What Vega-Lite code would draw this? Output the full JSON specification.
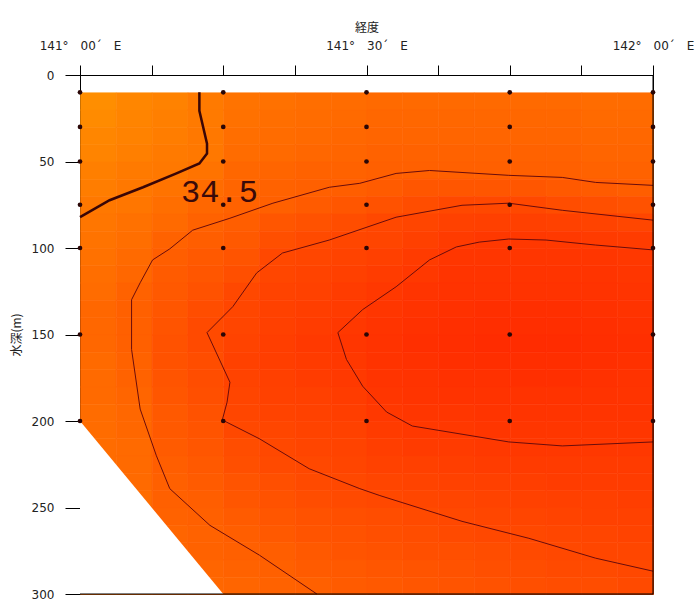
{
"$schema": "https://vega.github.io/schema/vega-lite/v6.json",
"width": 573, "height": 519,
"autosize": "none",
"padding": {"left": 80, "top": 75, "right": 42, "bottom": 7},
"background": "white",
"config": {
  "view": {"stroke": "black", "strokeWidth": 1},
  "axis": {"labelFont": "DejaVu Sans", "titleFont": "Noto Sans CJK JP", "labelColor": "#222222", "titleColor": "#222222", "domainColor": "black", "tickColor": "black", "grid": false, "zindex": 1, "labelFontSize": 12, "titleFontSize": 12, "titleFontWeight": "normal"}
},
"datasets": {
"sal": [
{"lon":1.875,"dep":15,"sal":34.41},{"lon":1.875,"dep":25,"sal":34.42},{"lon":1.875,"dep":35,"sal":34.44},{"lon":1.875,"dep":45,"sal":34.45},{"lon":1.875,"dep":55,"sal":34.47},{"lon":1.875,"dep":65,"sal":34.48},{"lon":1.875,"dep":75,"sal":34.50},{"lon":1.875,"dep":85,"sal":34.51},{"lon":1.875,"dep":95,"sal":34.52},{"lon":1.875,"dep":105,"sal":34.53},{"lon":1.875,"dep":115,"sal":34.54},{"lon":1.875,"dep":125,"sal":34.55},{"lon":1.875,"dep":135,"sal":34.57},{"lon":1.875,"dep":145,"sal":34.57},{"lon":1.875,"dep":155,"sal":34.57},{"lon":1.875,"dep":165,"sal":34.56},{"lon":1.875,"dep":175,"sal":34.56},{"lon":1.875,"dep":185,"sal":34.56},{"lon":1.875,"dep":195,"sal":34.55},{"lon":1.875,"dep":205,"sal":34.55},{"lon":1.875,"dep":215,"sal":34.55},{"lon":1.875,"dep":225,"sal":34.55},{"lon":1.875,"dep":235,"sal":34.54},{"lon":1.875,"dep":245,"sal":34.54},{"lon":1.875,"dep":255,"sal":34.54},{"lon":1.875,"dep":265,"sal":34.54},{"lon":1.875,"dep":275,"sal":34.53},{"lon":1.875,"dep":285,"sal":34.53},{"lon":1.875,"dep":295,"sal":34.53},
{"lon":5.625,"dep":15,"sal":34.44},{"lon":5.625,"dep":25,"sal":34.45},{"lon":5.625,"dep":35,"sal":34.46},{"lon":5.625,"dep":45,"sal":34.47},{"lon":5.625,"dep":55,"sal":34.49},{"lon":5.625,"dep":65,"sal":34.50},{"lon":5.625,"dep":75,"sal":34.51},{"lon":5.625,"dep":85,"sal":34.53},{"lon":5.625,"dep":95,"sal":34.54},{"lon":5.625,"dep":105,"sal":34.56},{"lon":5.625,"dep":115,"sal":34.57},{"lon":5.625,"dep":125,"sal":34.59},{"lon":5.625,"dep":135,"sal":34.60},{"lon":5.625,"dep":145,"sal":34.60},{"lon":5.625,"dep":155,"sal":34.60},{"lon":5.625,"dep":165,"sal":34.59},{"lon":5.625,"dep":175,"sal":34.59},{"lon":5.625,"dep":185,"sal":34.58},{"lon":5.625,"dep":195,"sal":34.57},{"lon":5.625,"dep":205,"sal":34.57},{"lon":5.625,"dep":215,"sal":34.56},{"lon":5.625,"dep":225,"sal":34.56},{"lon":5.625,"dep":235,"sal":34.56},{"lon":5.625,"dep":245,"sal":34.55},{"lon":5.625,"dep":255,"sal":34.55},{"lon":5.625,"dep":265,"sal":34.55},{"lon":5.625,"dep":275,"sal":34.55},{"lon":5.625,"dep":285,"sal":34.54},{"lon":5.625,"dep":295,"sal":34.54},
{"lon":9.375,"dep":15,"sal":34.46},{"lon":9.375,"dep":25,"sal":34.47},{"lon":9.375,"dep":35,"sal":34.48},{"lon":9.375,"dep":45,"sal":34.49},{"lon":9.375,"dep":55,"sal":34.50},{"lon":9.375,"dep":65,"sal":34.52},{"lon":9.375,"dep":75,"sal":34.54},{"lon":9.375,"dep":85,"sal":34.56},{"lon":9.375,"dep":95,"sal":34.59},{"lon":9.375,"dep":105,"sal":34.61},{"lon":9.375,"dep":115,"sal":34.62},{"lon":9.375,"dep":125,"sal":34.63},{"lon":9.375,"dep":135,"sal":34.64},{"lon":9.375,"dep":145,"sal":34.65},{"lon":9.375,"dep":155,"sal":34.66},{"lon":9.375,"dep":165,"sal":34.66},{"lon":9.375,"dep":175,"sal":34.65},{"lon":9.375,"dep":185,"sal":34.64},{"lon":9.375,"dep":195,"sal":34.63},{"lon":9.375,"dep":205,"sal":34.63},{"lon":9.375,"dep":215,"sal":34.62},{"lon":9.375,"dep":225,"sal":34.61},{"lon":9.375,"dep":235,"sal":34.60},{"lon":9.375,"dep":245,"sal":34.60},{"lon":9.375,"dep":255,"sal":34.59},{"lon":9.375,"dep":265,"sal":34.58},{"lon":9.375,"dep":275,"sal":34.58},{"lon":9.375,"dep":285,"sal":34.57},{"lon":9.375,"dep":295,"sal":34.56},
{"lon":13.125,"dep":15,"sal":34.49},{"lon":13.125,"dep":25,"sal":34.49},{"lon":13.125,"dep":35,"sal":34.50},{"lon":13.125,"dep":45,"sal":34.50},{"lon":13.125,"dep":55,"sal":34.52},{"lon":13.125,"dep":65,"sal":34.55},{"lon":13.125,"dep":75,"sal":34.57},{"lon":13.125,"dep":85,"sal":34.59},{"lon":13.125,"dep":95,"sal":34.61},{"lon":13.125,"dep":105,"sal":34.63},{"lon":13.125,"dep":115,"sal":34.64},{"lon":13.125,"dep":125,"sal":34.66},{"lon":13.125,"dep":135,"sal":34.68},{"lon":13.125,"dep":145,"sal":34.69},{"lon":13.125,"dep":155,"sal":34.69},{"lon":13.125,"dep":165,"sal":34.68},{"lon":13.125,"dep":175,"sal":34.68},{"lon":13.125,"dep":185,"sal":34.67},{"lon":13.125,"dep":195,"sal":34.66},{"lon":13.125,"dep":205,"sal":34.65},{"lon":13.125,"dep":215,"sal":34.64},{"lon":13.125,"dep":225,"sal":34.63},{"lon":13.125,"dep":235,"sal":34.62},{"lon":13.125,"dep":245,"sal":34.61},{"lon":13.125,"dep":255,"sal":34.60},{"lon":13.125,"dep":265,"sal":34.59},{"lon":13.125,"dep":275,"sal":34.59},{"lon":13.125,"dep":285,"sal":34.58},{"lon":13.125,"dep":295,"sal":34.57},
{"lon":16.875,"dep":15,"sal":34.52},{"lon":16.875,"dep":25,"sal":34.53},{"lon":16.875,"dep":35,"sal":34.54},{"lon":16.875,"dep":45,"sal":34.55},{"lon":16.875,"dep":55,"sal":34.57},{"lon":16.875,"dep":65,"sal":34.58},{"lon":16.875,"dep":75,"sal":34.59},{"lon":16.875,"dep":85,"sal":34.61},{"lon":16.875,"dep":95,"sal":34.63},{"lon":16.875,"dep":105,"sal":34.65},{"lon":16.875,"dep":115,"sal":34.67},{"lon":16.875,"dep":125,"sal":34.70},{"lon":16.875,"dep":135,"sal":34.71},{"lon":16.875,"dep":145,"sal":34.72},{"lon":16.875,"dep":155,"sal":34.73},{"lon":16.875,"dep":165,"sal":34.74},{"lon":16.875,"dep":175,"sal":34.73},{"lon":16.875,"dep":185,"sal":34.72},{"lon":16.875,"dep":195,"sal":34.71},{"lon":16.875,"dep":205,"sal":34.70},{"lon":16.875,"dep":215,"sal":34.68},{"lon":16.875,"dep":225,"sal":34.67},{"lon":16.875,"dep":235,"sal":34.65},{"lon":16.875,"dep":245,"sal":34.64},{"lon":16.875,"dep":255,"sal":34.62},{"lon":16.875,"dep":265,"sal":34.61},{"lon":16.875,"dep":275,"sal":34.60},{"lon":16.875,"dep":285,"sal":34.59},{"lon":16.875,"dep":295,"sal":34.58},
{"lon":20.625,"dep":15,"sal":34.53},{"lon":20.625,"dep":25,"sal":34.54},{"lon":20.625,"dep":35,"sal":34.55},{"lon":20.625,"dep":45,"sal":34.56},{"lon":20.625,"dep":55,"sal":34.58},{"lon":20.625,"dep":65,"sal":34.59},{"lon":20.625,"dep":75,"sal":34.60},{"lon":20.625,"dep":85,"sal":34.64},{"lon":20.625,"dep":95,"sal":34.67},{"lon":20.625,"dep":105,"sal":34.70},{"lon":20.625,"dep":115,"sal":34.71},{"lon":20.625,"dep":125,"sal":34.73},{"lon":20.625,"dep":135,"sal":34.74},{"lon":20.625,"dep":145,"sal":34.75},{"lon":20.625,"dep":155,"sal":34.76},{"lon":20.625,"dep":165,"sal":34.76},{"lon":20.625,"dep":175,"sal":34.75},{"lon":20.625,"dep":185,"sal":34.74},{"lon":20.625,"dep":195,"sal":34.73},{"lon":20.625,"dep":205,"sal":34.71},{"lon":20.625,"dep":215,"sal":34.70},{"lon":20.625,"dep":225,"sal":34.69},{"lon":20.625,"dep":235,"sal":34.67},{"lon":20.625,"dep":245,"sal":34.66},{"lon":20.625,"dep":255,"sal":34.64},{"lon":20.625,"dep":265,"sal":34.63},{"lon":20.625,"dep":275,"sal":34.61},{"lon":20.625,"dep":285,"sal":34.60},{"lon":20.625,"dep":295,"sal":34.59},
{"lon":24.375,"dep":15,"sal":34.54},{"lon":24.375,"dep":25,"sal":34.55},{"lon":24.375,"dep":35,"sal":34.56},{"lon":24.375,"dep":45,"sal":34.57},{"lon":24.375,"dep":55,"sal":34.59},{"lon":24.375,"dep":65,"sal":34.60},{"lon":24.375,"dep":75,"sal":34.62},{"lon":24.375,"dep":85,"sal":34.66},{"lon":24.375,"dep":95,"sal":34.69},{"lon":24.375,"dep":105,"sal":34.71},{"lon":24.375,"dep":115,"sal":34.73},{"lon":24.375,"dep":125,"sal":34.74},{"lon":24.375,"dep":135,"sal":34.76},{"lon":24.375,"dep":145,"sal":34.77},{"lon":24.375,"dep":155,"sal":34.79},{"lon":24.375,"dep":165,"sal":34.78},{"lon":24.375,"dep":175,"sal":34.77},{"lon":24.375,"dep":185,"sal":34.75},{"lon":24.375,"dep":195,"sal":34.74},{"lon":24.375,"dep":205,"sal":34.73},{"lon":24.375,"dep":215,"sal":34.72},{"lon":24.375,"dep":225,"sal":34.70},{"lon":24.375,"dep":235,"sal":34.69},{"lon":24.375,"dep":245,"sal":34.68},{"lon":24.375,"dep":255,"sal":34.66},{"lon":24.375,"dep":265,"sal":34.65},{"lon":24.375,"dep":275,"sal":34.63},{"lon":24.375,"dep":285,"sal":34.62},{"lon":24.375,"dep":295,"sal":34.60},
{"lon":28.125,"dep":15,"sal":34.55},{"lon":28.125,"dep":25,"sal":34.56},{"lon":28.125,"dep":35,"sal":34.57},{"lon":28.125,"dep":45,"sal":34.58},{"lon":28.125,"dep":55,"sal":34.59},{"lon":28.125,"dep":65,"sal":34.61},{"lon":28.125,"dep":75,"sal":34.64},{"lon":28.125,"dep":85,"sal":34.68},{"lon":28.125,"dep":95,"sal":34.71},{"lon":28.125,"dep":105,"sal":34.73},{"lon":28.125,"dep":115,"sal":34.75},{"lon":28.125,"dep":125,"sal":34.77},{"lon":28.125,"dep":135,"sal":34.78},{"lon":28.125,"dep":145,"sal":34.80},{"lon":28.125,"dep":155,"sal":34.81},{"lon":28.125,"dep":165,"sal":34.80},{"lon":28.125,"dep":175,"sal":34.79},{"lon":28.125,"dep":185,"sal":34.77},{"lon":28.125,"dep":195,"sal":34.76},{"lon":28.125,"dep":205,"sal":34.74},{"lon":28.125,"dep":215,"sal":34.73},{"lon":28.125,"dep":225,"sal":34.72},{"lon":28.125,"dep":235,"sal":34.70},{"lon":28.125,"dep":245,"sal":34.69},{"lon":28.125,"dep":255,"sal":34.67},{"lon":28.125,"dep":265,"sal":34.66},{"lon":28.125,"dep":275,"sal":34.65},{"lon":28.125,"dep":285,"sal":34.63},{"lon":28.125,"dep":295,"sal":34.62},
{"lon":31.875,"dep":15,"sal":34.56},{"lon":31.875,"dep":25,"sal":34.57},{"lon":31.875,"dep":35,"sal":34.58},{"lon":31.875,"dep":45,"sal":34.59},{"lon":31.875,"dep":55,"sal":34.60},{"lon":31.875,"dep":65,"sal":34.62},{"lon":31.875,"dep":75,"sal":34.66},{"lon":31.875,"dep":85,"sal":34.70},{"lon":31.875,"dep":95,"sal":34.72},{"lon":31.875,"dep":105,"sal":34.75},{"lon":31.875,"dep":115,"sal":34.77},{"lon":31.875,"dep":125,"sal":34.80},{"lon":31.875,"dep":135,"sal":34.81},{"lon":31.875,"dep":145,"sal":34.82},{"lon":31.875,"dep":155,"sal":34.83},{"lon":31.875,"dep":165,"sal":34.83},{"lon":31.875,"dep":175,"sal":34.82},{"lon":31.875,"dep":185,"sal":34.81},{"lon":31.875,"dep":195,"sal":34.80},{"lon":31.875,"dep":205,"sal":34.78},{"lon":31.875,"dep":215,"sal":34.76},{"lon":31.875,"dep":225,"sal":34.74},{"lon":31.875,"dep":235,"sal":34.72},{"lon":31.875,"dep":245,"sal":34.70},{"lon":31.875,"dep":255,"sal":34.68},{"lon":31.875,"dep":265,"sal":34.67},{"lon":31.875,"dep":275,"sal":34.66},{"lon":31.875,"dep":285,"sal":34.64},{"lon":31.875,"dep":295,"sal":34.63},
{"lon":35.625,"dep":15,"sal":34.56},{"lon":35.625,"dep":25,"sal":34.57},{"lon":35.625,"dep":35,"sal":34.58},{"lon":35.625,"dep":45,"sal":34.59},{"lon":35.625,"dep":55,"sal":34.60},{"lon":35.625,"dep":65,"sal":34.64},{"lon":35.625,"dep":75,"sal":34.68},{"lon":35.625,"dep":85,"sal":34.72},{"lon":35.625,"dep":95,"sal":34.75},{"lon":35.625,"dep":105,"sal":34.78},{"lon":35.625,"dep":115,"sal":34.80},{"lon":35.625,"dep":125,"sal":34.82},{"lon":35.625,"dep":135,"sal":34.83},{"lon":35.625,"dep":145,"sal":34.84},{"lon":35.625,"dep":155,"sal":34.85},{"lon":35.625,"dep":165,"sal":34.84},{"lon":35.625,"dep":175,"sal":34.83},{"lon":35.625,"dep":185,"sal":34.82},{"lon":35.625,"dep":195,"sal":34.81},{"lon":35.625,"dep":205,"sal":34.80},{"lon":35.625,"dep":215,"sal":34.78},{"lon":35.625,"dep":225,"sal":34.75},{"lon":35.625,"dep":235,"sal":34.73},{"lon":35.625,"dep":245,"sal":34.71},{"lon":35.625,"dep":255,"sal":34.69},{"lon":35.625,"dep":265,"sal":34.68},{"lon":35.625,"dep":275,"sal":34.67},{"lon":35.625,"dep":285,"sal":34.65},{"lon":35.625,"dep":295,"sal":34.64},
{"lon":39.375,"dep":15,"sal":34.56},{"lon":39.375,"dep":25,"sal":34.57},{"lon":39.375,"dep":35,"sal":34.58},{"lon":39.375,"dep":45,"sal":34.59},{"lon":39.375,"dep":55,"sal":34.60},{"lon":39.375,"dep":65,"sal":34.64},{"lon":39.375,"dep":75,"sal":34.70},{"lon":39.375,"dep":85,"sal":34.74},{"lon":39.375,"dep":95,"sal":34.78},{"lon":39.375,"dep":105,"sal":34.81},{"lon":39.375,"dep":115,"sal":34.82},{"lon":39.375,"dep":125,"sal":34.83},{"lon":39.375,"dep":135,"sal":34.84},{"lon":39.375,"dep":145,"sal":34.85},{"lon":39.375,"dep":155,"sal":34.86},{"lon":39.375,"dep":165,"sal":34.85},{"lon":39.375,"dep":175,"sal":34.84},{"lon":39.375,"dep":185,"sal":34.83},{"lon":39.375,"dep":195,"sal":34.81},{"lon":39.375,"dep":205,"sal":34.80},{"lon":39.375,"dep":215,"sal":34.78},{"lon":39.375,"dep":225,"sal":34.76},{"lon":39.375,"dep":235,"sal":34.74},{"lon":39.375,"dep":245,"sal":34.72},{"lon":39.375,"dep":255,"sal":34.70},{"lon":39.375,"dep":265,"sal":34.69},{"lon":39.375,"dep":275,"sal":34.67},{"lon":39.375,"dep":285,"sal":34.66},{"lon":39.375,"dep":295,"sal":34.65},
{"lon":43.125,"dep":15,"sal":34.56},{"lon":43.125,"dep":25,"sal":34.57},{"lon":43.125,"dep":35,"sal":34.58},{"lon":43.125,"dep":45,"sal":34.59},{"lon":43.125,"dep":55,"sal":34.60},{"lon":43.125,"dep":65,"sal":34.64},{"lon":43.125,"dep":75,"sal":34.70},{"lon":43.125,"dep":85,"sal":34.75},{"lon":43.125,"dep":95,"sal":34.80},{"lon":43.125,"dep":105,"sal":34.81},{"lon":43.125,"dep":115,"sal":34.82},{"lon":43.125,"dep":125,"sal":34.83},{"lon":43.125,"dep":135,"sal":34.85},{"lon":43.125,"dep":145,"sal":34.86},{"lon":43.125,"dep":155,"sal":34.87},{"lon":43.125,"dep":165,"sal":34.86},{"lon":43.125,"dep":175,"sal":34.84},{"lon":43.125,"dep":185,"sal":34.83},{"lon":43.125,"dep":195,"sal":34.82},{"lon":43.125,"dep":205,"sal":34.81},{"lon":43.125,"dep":215,"sal":34.79},{"lon":43.125,"dep":225,"sal":34.77},{"lon":43.125,"dep":235,"sal":34.75},{"lon":43.125,"dep":245,"sal":34.73},{"lon":43.125,"dep":255,"sal":34.71},{"lon":43.125,"dep":265,"sal":34.70},{"lon":43.125,"dep":275,"sal":34.68},{"lon":43.125,"dep":285,"sal":34.67},{"lon":43.125,"dep":295,"sal":34.66},
{"lon":46.875,"dep":15,"sal":34.56},{"lon":46.875,"dep":25,"sal":34.57},{"lon":46.875,"dep":35,"sal":34.58},{"lon":46.875,"dep":45,"sal":34.59},{"lon":46.875,"dep":55,"sal":34.60},{"lon":46.875,"dep":65,"sal":34.64},{"lon":46.875,"dep":75,"sal":34.70},{"lon":46.875,"dep":85,"sal":34.75},{"lon":46.875,"dep":95,"sal":34.80},{"lon":46.875,"dep":105,"sal":34.81},{"lon":46.875,"dep":115,"sal":34.82},{"lon":46.875,"dep":125,"sal":34.83},{"lon":46.875,"dep":135,"sal":34.85},{"lon":46.875,"dep":145,"sal":34.86},{"lon":46.875,"dep":155,"sal":34.87},{"lon":46.875,"dep":165,"sal":34.86},{"lon":46.875,"dep":175,"sal":34.85},{"lon":46.875,"dep":185,"sal":34.83},{"lon":46.875,"dep":195,"sal":34.82},{"lon":46.875,"dep":205,"sal":34.81},{"lon":46.875,"dep":215,"sal":34.80},{"lon":46.875,"dep":225,"sal":34.78},{"lon":46.875,"dep":235,"sal":34.76},{"lon":46.875,"dep":245,"sal":34.74},{"lon":46.875,"dep":255,"sal":34.72},{"lon":46.875,"dep":265,"sal":34.70},{"lon":46.875,"dep":275,"sal":34.69},{"lon":46.875,"dep":285,"sal":34.68},{"lon":46.875,"dep":295,"sal":34.67},
{"lon":50.625,"dep":15,"sal":34.56},{"lon":50.625,"dep":25,"sal":34.57},{"lon":50.625,"dep":35,"sal":34.58},{"lon":50.625,"dep":45,"sal":34.59},{"lon":50.625,"dep":55,"sal":34.60},{"lon":50.625,"dep":65,"sal":34.63},{"lon":50.625,"dep":75,"sal":34.68},{"lon":50.625,"dep":85,"sal":34.74},{"lon":50.625,"dep":95,"sal":34.79},{"lon":50.625,"dep":105,"sal":34.81},{"lon":50.625,"dep":115,"sal":34.82},{"lon":50.625,"dep":125,"sal":34.83},{"lon":50.625,"dep":135,"sal":34.85},{"lon":50.625,"dep":145,"sal":34.86},{"lon":50.625,"dep":155,"sal":34.87},{"lon":50.625,"dep":165,"sal":34.86},{"lon":50.625,"dep":175,"sal":34.85},{"lon":50.625,"dep":185,"sal":34.83},{"lon":50.625,"dep":195,"sal":34.82},{"lon":50.625,"dep":205,"sal":34.81},{"lon":50.625,"dep":215,"sal":34.80},{"lon":50.625,"dep":225,"sal":34.78},{"lon":50.625,"dep":235,"sal":34.77},{"lon":50.625,"dep":245,"sal":34.75},{"lon":50.625,"dep":255,"sal":34.73},{"lon":50.625,"dep":265,"sal":34.71},{"lon":50.625,"dep":275,"sal":34.70},{"lon":50.625,"dep":285,"sal":34.69},{"lon":50.625,"dep":295,"sal":34.68},
{"lon":54.375,"dep":15,"sal":34.55},{"lon":54.375,"dep":25,"sal":34.56},{"lon":54.375,"dep":35,"sal":34.57},{"lon":54.375,"dep":45,"sal":34.58},{"lon":54.375,"dep":55,"sal":34.59},{"lon":54.375,"dep":65,"sal":34.62},{"lon":54.375,"dep":75,"sal":34.67},{"lon":54.375,"dep":85,"sal":34.73},{"lon":54.375,"dep":95,"sal":34.78},{"lon":54.375,"dep":105,"sal":34.81},{"lon":54.375,"dep":115,"sal":34.82},{"lon":54.375,"dep":125,"sal":34.83},{"lon":54.375,"dep":135,"sal":34.84},{"lon":54.375,"dep":145,"sal":34.85},{"lon":54.375,"dep":155,"sal":34.86},{"lon":54.375,"dep":165,"sal":34.85},{"lon":54.375,"dep":175,"sal":34.84},{"lon":54.375,"dep":185,"sal":34.83},{"lon":54.375,"dep":195,"sal":34.82},{"lon":54.375,"dep":205,"sal":34.81},{"lon":54.375,"dep":215,"sal":34.80},{"lon":54.375,"dep":225,"sal":34.78},{"lon":54.375,"dep":235,"sal":34.77},{"lon":54.375,"dep":245,"sal":34.75},{"lon":54.375,"dep":255,"sal":34.74},{"lon":54.375,"dep":265,"sal":34.72},{"lon":54.375,"dep":275,"sal":34.71},{"lon":54.375,"dep":285,"sal":34.69},{"lon":54.375,"dep":295,"sal":34.68},
{"lon":58.125,"dep":15,"sal":34.55},{"lon":58.125,"dep":25,"sal":34.56},{"lon":58.125,"dep":35,"sal":34.57},{"lon":58.125,"dep":45,"sal":34.58},{"lon":58.125,"dep":55,"sal":34.59},{"lon":58.125,"dep":65,"sal":34.61},{"lon":58.125,"dep":75,"sal":34.66},{"lon":58.125,"dep":85,"sal":34.71},{"lon":58.125,"dep":95,"sal":34.77},{"lon":58.125,"dep":105,"sal":34.80},{"lon":58.125,"dep":115,"sal":34.81},{"lon":58.125,"dep":125,"sal":34.82},{"lon":58.125,"dep":135,"sal":34.83},{"lon":58.125,"dep":145,"sal":34.84},{"lon":58.125,"dep":155,"sal":34.85},{"lon":58.125,"dep":165,"sal":34.84},{"lon":58.125,"dep":175,"sal":34.83},{"lon":58.125,"dep":185,"sal":34.82},{"lon":58.125,"dep":195,"sal":34.82},{"lon":58.125,"dep":205,"sal":34.81},{"lon":58.125,"dep":215,"sal":34.80},{"lon":58.125,"dep":225,"sal":34.78},{"lon":58.125,"dep":235,"sal":34.77},{"lon":58.125,"dep":245,"sal":34.76},{"lon":58.125,"dep":255,"sal":34.74},{"lon":58.125,"dep":265,"sal":34.73},{"lon":58.125,"dep":275,"sal":34.71},{"lon":58.125,"dep":285,"sal":34.70},{"lon":58.125,"dep":295,"sal":34.69}
],
"contours": [
{"level":"34.5","seq":0,"lon":12.5,"dep":10},{"level":"34.5","seq":1,"lon":12.5,"dep":20.7},{"level":"34.5","seq":2,"lon":13.3,"dep":39.7},{"level":"34.5","seq":3,"lon":13.3,"dep":45.4},{"level":"34.5","seq":4,"lon":12.5,"dep":51.1},{"level":"34.5","seq":5,"lon":10.1,"dep":56.9},{"level":"34.5","seq":6,"lon":6.6,"dep":64.9},{"level":"34.5","seq":7,"lon":3.1,"dep":72.4},{"level":"34.5","seq":8,"lon":0,"dep":82.2},
{"level":"34.6","seq":0,"lon":60,"dep":63.8},{"level":"34.6","seq":1,"lon":54,"dep":62.1},{"level":"34.6","seq":2,"lon":50.5,"dep":59.2},{"level":"34.6","seq":3,"lon":44.9,"dep":58},{"level":"34.6","seq":4,"lon":36.6,"dep":55.2},{"level":"34.6","seq":5,"lon":33.1,"dep":56.9},{"level":"34.6","seq":6,"lon":29.3,"dep":62.6},{"level":"34.6","seq":7,"lon":26.1,"dep":64.9},{"level":"34.6","seq":8,"lon":20.2,"dep":74.1},{"level":"34.6","seq":9,"lon":15.7,"dep":82.8},{"level":"34.6","seq":10,"lon":11.8,"dep":89.7},{"level":"34.6","seq":11,"lon":9.4,"dep":100.5},{"level":"34.6","seq":12,"lon":7.6,"dep":106.9},{"level":"34.6","seq":13,"lon":6.3,"dep":120.1},{"level":"34.6","seq":14,"lon":5.4,"dep":129.9},{"level":"34.6","seq":15,"lon":5.4,"dep":158.6},{"level":"34.6","seq":16,"lon":6.3,"dep":193.1},{"level":"34.6","seq":17,"lon":8,"dep":220.1},{"level":"34.6","seq":18,"lon":9.4,"dep":239.1},{"level":"34.6","seq":19,"lon":13.6,"dep":260.3},{"level":"34.6","seq":20,"lon":18.8,"dep":277.6},{"level":"34.6","seq":21,"lon":24.8,"dep":300},
{"level":"34.7","seq":0,"lon":60,"dep":83.9},{"level":"34.7","seq":1,"lon":50.5,"dep":78.2},{"level":"34.7","seq":2,"lon":44.9,"dep":74.1},{"level":"34.7","seq":3,"lon":40,"dep":75.3},{"level":"34.7","seq":4,"lon":33.1,"dep":82.2},{"level":"34.7","seq":5,"lon":26.1,"dep":95.4},{"level":"34.7","seq":6,"lon":21.2,"dep":102.9},{"level":"34.7","seq":7,"lon":18.5,"dep":114.4},{"level":"34.7","seq":8,"lon":16,"dep":133.9},{"level":"34.7","seq":9,"lon":13.3,"dep":148.9},{"level":"34.7","seq":10,"lon":15.7,"dep":177.6},{"level":"34.7","seq":11,"lon":15.4,"dep":189.1},{"level":"34.7","seq":12,"lon":14.9,"dep":199.4},{"level":"34.7","seq":13,"lon":18.8,"dep":210.3},{"level":"34.7","seq":14,"lon":24,"dep":227.6},{"level":"34.7","seq":15,"lon":29.3,"dep":239.1},{"level":"34.7","seq":16,"lon":31.4,"dep":243.1},{"level":"34.7","seq":17,"lon":40,"dep":258},{"level":"34.7","seq":18,"lon":47,"dep":267.8},{"level":"34.7","seq":19,"lon":54,"dep":279.3},{"level":"34.7","seq":20,"lon":60,"dep":286.8},
{"level":"34.8","seq":0,"lon":60,"dep":101.1},{"level":"34.8","seq":1,"lon":54,"dep":98.3},{"level":"34.8","seq":2,"lon":48.8,"dep":95.4},{"level":"34.8","seq":3,"lon":44.9,"dep":94.8},{"level":"34.8","seq":4,"lon":41.8,"dep":96.6},{"level":"34.8","seq":5,"lon":39.4,"dep":99.4},{"level":"34.8","seq":6,"lon":36.6,"dep":106.9},{"level":"34.8","seq":7,"lon":33.1,"dep":122.4},{"level":"34.8","seq":8,"lon":29.6,"dep":135.6},{"level":"34.8","seq":9,"lon":27,"dep":148.9},{"level":"34.8","seq":10,"lon":27.9,"dep":164.4},{"level":"34.8","seq":11,"lon":29.6,"dep":179.9},{"level":"34.8","seq":12,"lon":32.1,"dep":194.8},{"level":"34.8","seq":13,"lon":34.8,"dep":202.9},{"level":"34.8","seq":14,"lon":44.9,"dep":212.1},{"level":"34.8","seq":15,"lon":50.5,"dep":214.4},{"level":"34.8","seq":16,"lon":60,"dep":212.1}
],
"stations": [
{"lon":0,"dep":10},{"lon":0,"dep":30},{"lon":0,"dep":50},{"lon":0,"dep":75},{"lon":0,"dep":100},{"lon":0,"dep":150},{"lon":0,"dep":200},
{"lon":15,"dep":10},{"lon":15,"dep":30},{"lon":15,"dep":50},{"lon":15,"dep":75},{"lon":15,"dep":100},{"lon":15,"dep":150},{"lon":15,"dep":200},
{"lon":30,"dep":10},{"lon":30,"dep":30},{"lon":30,"dep":50},{"lon":30,"dep":75},{"lon":30,"dep":100},{"lon":30,"dep":150},{"lon":30,"dep":200},
{"lon":45,"dep":10},{"lon":45,"dep":30},{"lon":45,"dep":50},{"lon":45,"dep":75},{"lon":45,"dep":100},{"lon":45,"dep":150},{"lon":45,"dep":200},
{"lon":60,"dep":10},{"lon":60,"dep":30},{"lon":60,"dep":50},{"lon":60,"dep":75},{"lon":60,"dep":100},{"lon":60,"dep":150},{"lon":60,"dep":200}
]
},
"layer": [
{
  "data": {"name": "sal"},
  "mark": {"type": "rect", "binSpacing": 0, "strokeWidth": 0.6},
  "encoding": {
    "x": {"field": "lon", "type": "quantitative", "bin": {"extent": [0, 60], "step": 3.75, "nice": false},
      "scale": {"domain": [0, 60], "nice": false, "zero": false},
      "axis": {"orient": "top", "title": "経度", "values": [0, 7.5, 15, 22.5, 30, 37.5, 45, 52.5, 60],
        "labelExpr": "datum.value == 0 ? '141°　00´　E' : datum.value == 30 ? '141°　30´　E' : datum.value == 60 ? '142°　00´　E' : ''",
        "tickSize": 10, "labelPadding": 13, "titlePadding": 5, "labelFlush": false, "labelOverlap": false, "labelBound": false}},
    "y": {"field": "dep", "type": "quantitative", "bin": {"extent": [10, 300], "step": 10, "nice": false},
      "scale": {"domain": [0, 300], "reverse": true, "nice": false, "zero": false},
      "axis": {"title": "水深(m)", "values": [0, 50, 100, 150, 200, 250, 300], "tickSize": 15, "labelPadding": 11, "titlePadding": 8, "labelOverlap": false}},
    "color": {"field": "sal", "type": "quantitative", "legend": null,
      "scale": {"domain": [34.4, 34.55, 34.7, 34.87], "range": ["#ff9000", "#ff6c00", "#ff4800", "#ff2c00"], "interpolate": "rgb"}},
    "stroke": {"field": "sal", "type": "quantitative", "legend": null,
      "scale": {"domain": [34.4, 34.55, 34.7, 34.87], "range": ["#ff9000", "#ff6c00", "#ff4800", "#ff2c00"], "interpolate": "rgb"}}
  }
},
{
  "data": {"values": [{"lon": 0, "dep": 200}, {"lon": 15, "dep": 300}]},
  "mark": {"type": "area", "color": "white", "opacity": 1},
  "encoding": {
    "x": {"field": "lon", "type": "quantitative"},
    "y": {"field": "dep", "type": "quantitative"},
    "y2": {"datum": 300}
  }
},
{
  "data": {"name": "contours"},
  "transform": [{"filter": "datum.level != '34.5'"}],
  "mark": {"type": "line", "color": "#6a0c0c", "strokeWidth": 1},
  "encoding": {
    "x": {"field": "lon", "type": "quantitative"},
    "y": {"field": "dep", "type": "quantitative"},
    "detail": {"field": "level"},
    "order": {"field": "seq", "type": "quantitative"}
  }
},
{
  "data": {"name": "contours"},
  "transform": [{"filter": "datum.level == '34.5'"}],
  "mark": {"type": "line", "color": "#3a0606", "strokeWidth": 2.5},
  "encoding": {
    "x": {"field": "lon", "type": "quantitative"},
    "y": {"field": "dep", "type": "quantitative"},
    "order": {"field": "seq", "type": "quantitative"}
  }
},
{
  "data": {"values": [{}]},
  "mark": {"type": "rule", "color": "black", "strokeWidth": 1},
  "encoding": {"y": {"datum": 300}}
},
{
  "data": {"values": [{}]},
  "mark": {"type": "rule", "color": "black", "strokeWidth": 1},
  "encoding": {"x": {"datum": 60}}
},
{
  "data": {"name": "stations"},
  "mark": {"type": "circle", "color": "#2a0606", "opacity": 1, "size": 22},
  "encoding": {
    "x": {"field": "lon", "type": "quantitative"},
    "y": {"field": "dep", "type": "quantitative"}
  }
},
{
  "data": {"values": [{"lon": 14.6, "dep": 73.5, "label": "34.5"}]},
  "mark": {"type": "text", "font": "Liberation Mono", "fontSize": 32, "color": "#3a0a0a", "align": "center", "baseline": "alphabetic"},
  "encoding": {
    "x": {"field": "lon", "type": "quantitative"},
    "y": {"field": "dep", "type": "quantitative"},
    "text": {"field": "label"}
  }
}
]
}
